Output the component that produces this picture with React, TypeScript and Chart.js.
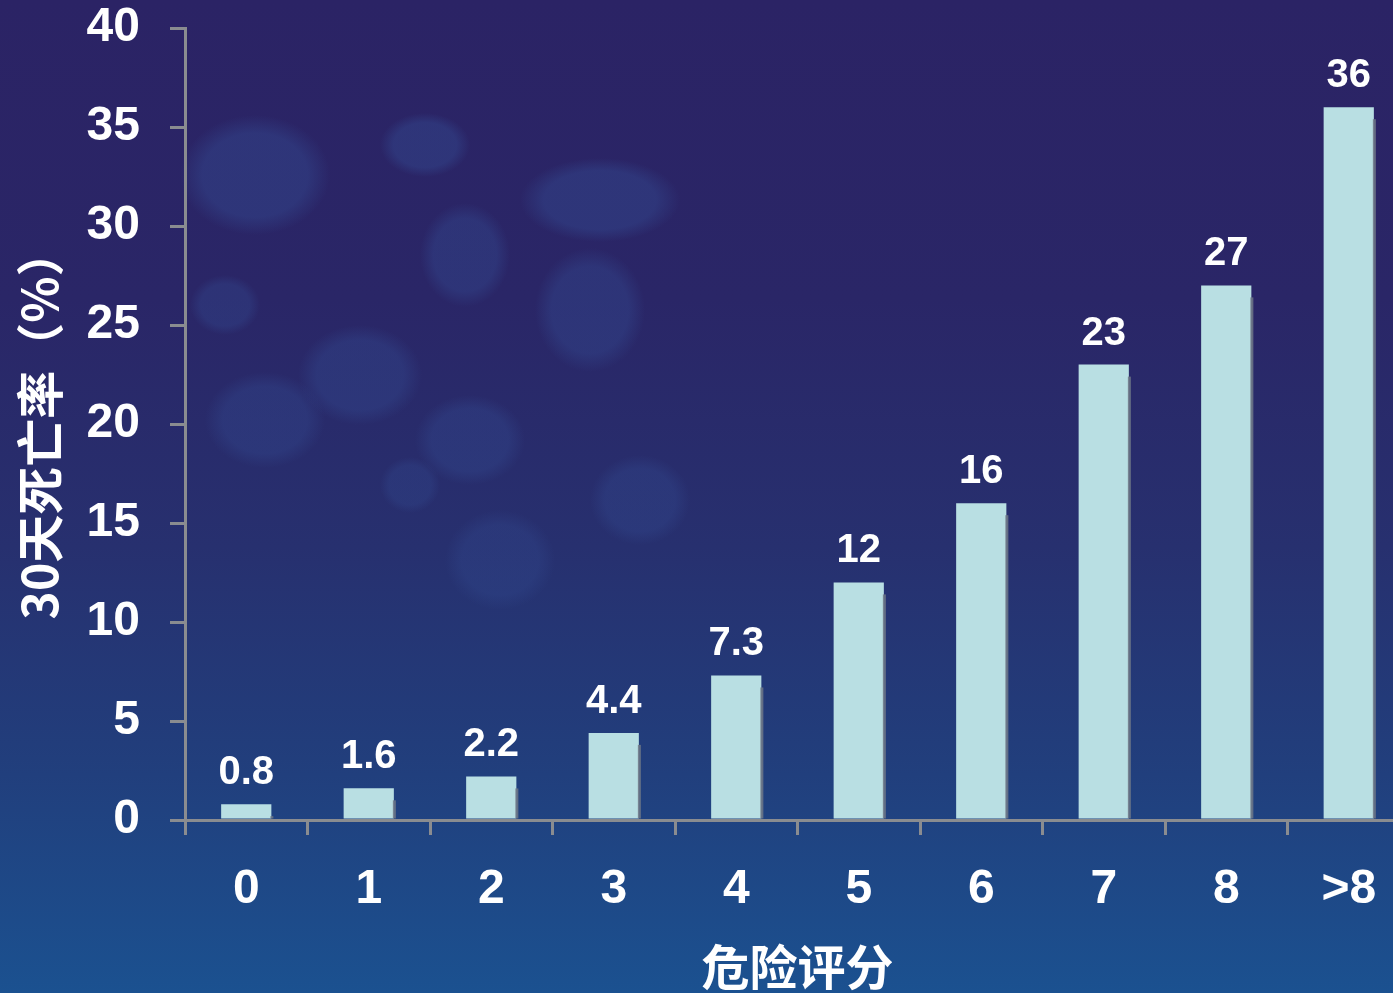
import React, { useEffect, useRef } from "react";
import { Chart, registerables } from "chart.js";

Chart.register(...registerables);

const categories = ["0", "1", "2", "3", "4", "5", "6", "7", "8", ">8"];
const mortality = [0.8, 1.6, 2.2, 4.4, 7.3, 12, 16, 23, 27, 36];
const valueLabels = ["0.8", "1.6", "2.2", "4.4", "7.3", "12", "16", "23", "27", "36"];
const yTicks = [0, 5, 10, 15, 20, 25, 30, 35, 40];
const yTitle = "30天死亡率（%）";
const xTitle = "危险评分";

const AXIS_GRAY = "#8a8c90";
const BAR_COLOR = "#b9dfe3";
const LATIN = "'Liberation Sans', Arial, 'Noto Sans CJK SC', sans-serif";

const labelPlugin = {
  id: "valueLabels",
  afterDatasetsDraw(chart: any) {
    const ctx = chart.ctx;
    const meta = chart.getDatasetMeta(0);
    ctx.save();
    meta.data.forEach((bar: any, i: number) => {
      const props = bar.getProps(["x", "y", "base", "width"], true);
      const right = props.x + props.width / 2;
      ctx.fillStyle = "rgba(110,120,135,0.85)";
      const top = Math.min(props.y + 12, props.base);
      ctx.fillRect(right - 1, top, 3, props.base - top);
      ctx.fillStyle = "#ffffff";
      ctx.font = `bold 40px ${LATIN}`;
      ctx.textAlign = "center";
      ctx.textBaseline = "alphabetic";
      ctx.fillText(valueLabels[i], props.x, props.y - 20);
    });
    ctx.restore();
  },
};

export default function App() {
  const canvasRef = useRef<HTMLCanvasElement | null>(null);

  useEffect(() => {
    const canvas = canvasRef.current;
    if (!canvas) return;
    const chart = new Chart(canvas, {
      type: "bar",
      data: {
        labels: categories,
        datasets: [
          {
            data: mortality,
            backgroundColor: BAR_COLOR,
            borderWidth: 0,
            barPercentage: 0.41,
            categoryPercentage: 1,
          },
        ],
      },
      options: {
        animation: false,
        responsive: false,
        devicePixelRatio: 1,
        layout: { padding: { top: 28, left: 0, right: 0, bottom: 0 } },
        plugins: {
          legend: { display: false },
          tooltip: { enabled: false },
        },
        scales: {
          x: {
            offset: true,
            grid: {
              display: true,
              offset: true,
              drawOnChartArea: false,
              drawTicks: true,
              tickLength: 15,
              tickWidth: 3,
              color: AXIS_GRAY,
              lineWidth: 3,
            },
            border: { display: true, color: AXIS_GRAY, width: 3 },
            ticks: {
              color: "#ffffff",
              padding: 26,
              maxRotation: 0,
              font: { family: LATIN, size: 48, weight: "bold" },
            },
            title: {
              display: true,
              text: xTitle,
              color: "#ffffff",
              padding: { top: 0, bottom: -3 },
              font: { family: "'Noto Sans CJK SC', sans-serif", size: 48, weight: "bold" },
            },
            afterFit(scale: any) {
              scale.height = 173;
              scale.paddingLeft = 0;
              scale.paddingRight = 0;
            },
          },
          y: {
            min: 0,
            max: 40,
            afterBuildTicks(scale: any) {
              scale.ticks = yTicks.map((v) => ({ value: v }));
            },
            grid: {
              display: true,
              drawOnChartArea: false,
              drawTicks: true,
              tickLength: 15,
              tickWidth: 3,
              color: AXIS_GRAY,
              lineWidth: 3,
            },
            border: { display: true, color: AXIS_GRAY, width: 3 },
            ticks: {
              color: "#ffffff",
              padding: 30,
              font: { family: LATIN, size: 48, weight: "bold" },
            },
            title: {
              display: true,
              text: yTitle,
              color: "#ffffff",
              padding: { top: 11, bottom: 0 },
              font: { family: "'Noto Sans CJK SC', sans-serif", size: 48, weight: "bold" },
            },
            afterFit(scale: any) {
              scale.width = 185;
              scale.paddingTop = 0;
              scale.paddingBottom = 0;
            },
          },
        },
      },
      plugins: [labelPlugin],
    });
    return () => chart.destroy();
  }, []);

  const pebble = (rx: number, ry: number, cx: number, cy: number, a: number) =>
    `radial-gradient(ellipse ${rx}px ${ry}px at ${cx}px ${cy}px, rgba(52,78,150,${a}) 0%, rgba(52,78,150,${a}) 70%, rgba(52,78,150,0) 100%)`;

  const blobs = [
    pebble(75, 60, 255, 175, 0.4),
    pebble(45, 32, 425, 145, 0.4),
    pebble(80, 42, 600, 200, 0.4),
    pebble(45, 52, 465, 255, 0.36),
    pebble(55, 62, 590, 310, 0.36),
    pebble(62, 50, 360, 375, 0.34),
    pebble(55, 45, 470, 440, 0.32),
    pebble(50, 45, 640, 500, 0.3),
    pebble(55, 50, 500, 560, 0.28),
    pebble(60, 48, 265, 420, 0.32),
    pebble(35, 30, 225, 305, 0.32),
    pebble(30, 28, 410, 485, 0.28),
  ];

  return (
    <div
      style={{
        position: "fixed",
        left: 0,
        top: 0,
        width: 1393,
        height: 993,
        overflow: "hidden",
        background:
          blobs.join(", ") +
          ", linear-gradient(to bottom, #2b2365 0%, #2a2667 30%, #27306f 55%, #213f7d 78%, #1b5190 100%)",
      }}
    >
      <canvas
        ref={canvasRef}
        width={1410}
        height={993}
        style={{ display: "block", width: 1410, height: 993 }}
      />
    </div>
  );
}
